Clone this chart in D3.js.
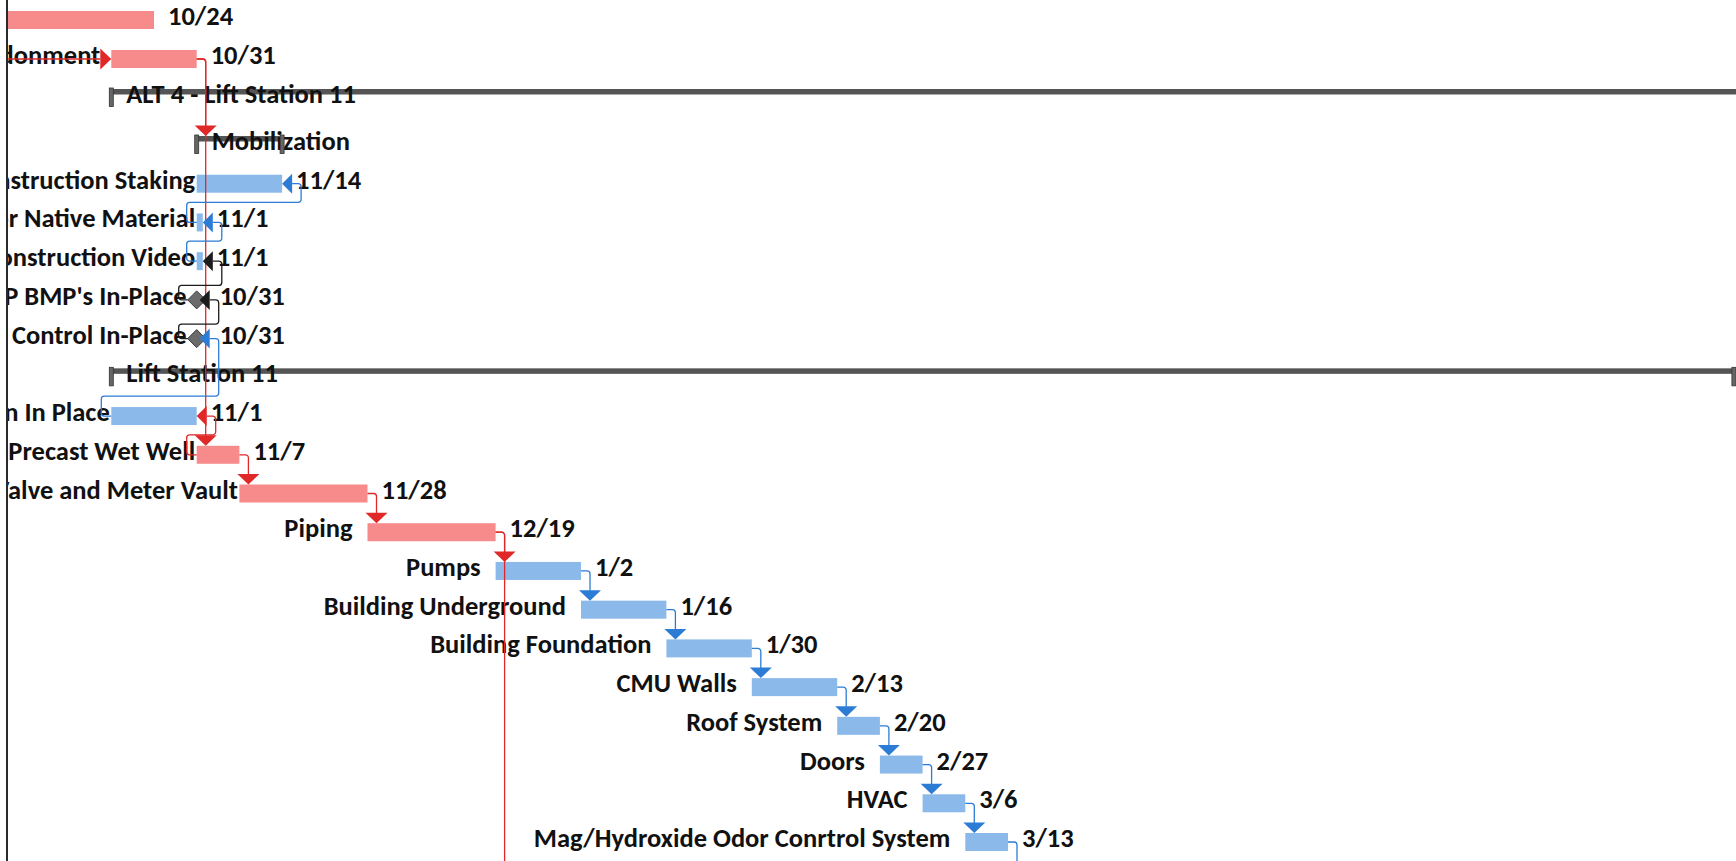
<!DOCTYPE html>
<html><head><meta charset="utf-8">
<script src="https://cdn.jsdelivr.net/npm/d3@7"></script>
<style>
html,body{margin:0;padding:0;background:#fff;overflow:hidden}
svg{display:block}
text{font-family:Carlito,Calibri,Lato,sans-serif;font-weight:700;font-size:26.5px;fill:#111;white-space:pre}
</style></head><body>
<svg id="chart" width="1736" height="861"></svg>
<script>
// ---------------- data ----------------
const taskNames = [
  "", "Abandonment", "ALT 4 - Lift Station 11", "Mobilization", "Construction Staking",
  "Soil Testing for Native Material", "Pre-Construction Video", "SWPPP BMP's In-Place",
  "Traffic Control In-Place", "Lift Station 11", "Dewatering Plan In Place",
  "Install Precast Wet Well", "Install Valve and Meter Vault", "Piping", "Pumps",
  "Building Underground", "Building Foundation", "CMU Walls", "Roof System", "Doors",
  "HVAC", "Mag/Hydroxide Odor Conrtrol System"
];
const taskTypes = [
  "task","task","summary","summary","task","task","task","milestone","milestone","summary","task",
  "task","task","task","task","task","task","task","task","task","task","task"
];
const startDates = [
  "2024-09-19","2024-10-17","2024-10-17","2024-10-31","2024-10-31","2024-10-31","2024-10-31",
  "2024-10-31","2024-10-31","2024-10-17","2024-10-17","2024-10-31","2024-11-07","2024-11-28",
  "2024-12-19","2025-01-02","2025-01-16","2025-01-30","2025-02-13","2025-02-20","2025-02-27","2025-03-06"
];
const finishDates = [
  "2024-10-24","2024-10-31","2025-09-30","2024-11-14","2024-11-14","2024-11-01","2024-11-01",
  "2024-10-31","2024-10-31","2025-07-10","2024-10-31","2024-11-07","2024-11-28","2024-12-19",
  "2025-01-02","2025-01-16","2025-01-30","2025-02-13","2025-02-20","2025-02-27","2025-03-06","2025-03-13"
];
const finishLabels = [
  "10/24","10/31","","","11/14","11/1","11/1","10/31","10/31","","11/1","11/7","11/28","12/19",
  "1/2","1/16","1/30","2/13","2/20","2/27","3/6","3/13"
];
const criticalTasks = [0,1,11,12,13];
// links: from -> to, kind FS (finish-to-start, down), SF (into finish of row above), IN (from off-view left)
const linkFrom = [null, 1, 1, 5, 6, 7, 8, 10, 11, 11, 12, 13, 13, 14, 15, 16, 17, 18, 19, 20, 21];
const linkTo   = [1,    3, 11, 4, 5, 6, 7, 8,  10, 12, 13, 14, 23, 15, 16, 17, 18, 19, 20, 21, 22];
const linkKind = ["IN","FS","FS","SF","SF","SF","SF","SF","SF","FS","FS","FS","FS","FS","FS","FS","FS","FS","FS","FS","FS"];
const linkCat  = ["critical","critical","critical","normal","normal","other","other","normal","critical",
  "critical","critical","critical","critical","normal","normal","normal","normal","normal","normal","normal","normal"];

// ---------------- layout ----------------
const W = 1736, H = 861, BAR_H = 18, BASE = 14;
const parse = d3.utcParse("%Y-%m-%d");
const x = d3.scaleUtc().domain([parse("2024-10-24"), parse("2025-03-13")]).range([154, 1008]);
const y = d3.scaleLinear().domain([0, 2, 3, 21]).range([11, 89, 136, 833]); // row -> bar top
const barColor = {critical: "#f78b8b", normal: "#8bbaea"};
const linkColor = {critical: "#e02828", normal: "#2c7cd6", other: "#1c1c1c"};

const tasks = taskNames.map((name, i) => ({
  i, name, type: taskTypes[i],
  s: x(parse(startDates[i])), f: x(parse(finishDates[i])),
  top: y(i), label: finishLabels[i],
  cat: criticalTasks.includes(i) ? "critical" : "normal"
}));

const svg = d3.select("#chart");
svg.append("defs").append("clipPath").attr("id", "clip")
  .append("rect").attr("x", 8).attr("y", 0).attr("width", W - 8).attr("height", H);
const g = svg.append("g").attr("clip-path", "url(#clip)");

// summary lines
const sums = tasks.filter(t => t.type === "summary");
g.selectAll("rect.sum").data(sums).join("rect").attr("class", "sum")
  .attr("x", d => d.s).attr("y", d => d.top).attr("width", d => d.f - d.s).attr("height", 5.5)
  .attr("fill", "#555");

// bars
const bars = tasks.filter(t => t.type === "task");
g.selectAll("rect.bar").data(bars).join("rect").attr("class", "bar")
  .attr("x", d => d.s).attr("y", d => d.top).attr("width", d => Math.max(1, d.f - d.s)).attr("height", BAR_H)
  .attr("fill", d => barColor[d.cat]);

// milestones
const ms = tasks.filter(t => t.type === "milestone");
g.selectAll("path.ms").data(ms).join("path").attr("class", "ms")
  .attr("d", d => { const cx = d.f, cy = d.top + 9; return `M${cx-9},${cy}L${cx},${cy-9}L${cx+9},${cy}L${cx},${cy+9}Z`; })
  .attr("fill", "#6b6b6b").attr("stroke", "#3a3a3a").attr("stroke-width", 1);

// task names
const gapFor = t => {
  if (t.type === "milestone") return 10;
  if (linkTo.some((to, k) => to === t.i && linkKind[k] === "IN")) return 11;
  return t.i >= 13 ? 15 : 1.5;
};
g.selectAll("text.name").data(tasks.filter(t => t.name && t.type !== "summary")).join("text").attr("class", "name")
  .attr("x", d => (d.type === "milestone" ? d.f : d.s) - gapFor(d)).attr("y", d => d.top + BASE)
  .attr("text-anchor", "end").text(d => d.name);
g.selectAll("text.sname").data(sums).join("text").attr("class", "sname")
  .attr("x", d => d.s + 15).attr("y", d => d.top + BASE).text(d => d.name);

// summary caps
const caps = sums.flatMap(d => [d.s, d.f].map(v => ({v, top: d.top})));
g.selectAll("rect.cap").data(caps).join("rect").attr("class", "cap")
  .attr("x", d => d.v - 2).attr("y", d => d.top - 1).attr("width", 4).attr("height", 18.5)
  .attr("fill", "#666").attr("stroke", "#333").attr("stroke-width", 0.8);

// finish labels
g.selectAll("text.fin").data(tasks.filter(t => t.label)).join("text").attr("class", "fin")
  .attr("x", d => d.f + (d.type === "milestone" ? 23 : 14)).attr("y", d => d.top + BASE).text(d => d.label);

// links
function rounded(pts, r) {
  const p = d3.path();
  p.moveTo(pts[0][0], pts[0][1]);
  for (let k = 1; k < pts.length - 1; k++) p.arcTo(pts[k][0], pts[k][1], pts[k+1][0], pts[k+1][1], r);
  p.lineTo(pts[pts.length-1][0], pts[pts.length-1][1]);
  return p.toString();
}
const links = linkTo.map((to, k) => {
  const kind = linkKind[k], col = linkColor[linkCat[k]];
  const B = tasks[to] || {top: y(to), s: null};
  let line, head;
  if (kind === "IN") {
    const cy = B.top + 9, tip = B.s;
    line = [[0, cy], [tip - 11, cy]];
    head = `M${tip-11},${cy-10.5}L${tip},${cy}L${tip-11},${cy+10.5}Z`;
  } else if (kind === "FS") {
    const A = tasks[linkFrom[k]];
    const ay = A.top + 9, vx = A.f + 9, ty = B.top;
    line = [[A.f, ay], [vx, ay], [vx, ty - 10]];
    head = `M${vx-11},${ty-10.5}L${vx+11},${ty-10.5}L${vx},${ty}Z`;
  } else { // SF: from A's start up into B's finish
    const A = tasks[linkFrom[k]];
    const aMs = A.type === "milestone", bMs = B.type === "milestone";
    const ay = A.top + 9, by = B.top + 9;
    const ax0 = aMs ? A.f - 9 : A.s, axl = aMs ? A.f - 18 : A.s - 10;
    const gy = aMs ? A.top - 5.5 : A.top - 11;
    const tip = bMs ? B.f + 3 : B.f, vx = tip + 19;
    line = [[tip + 10, by], [vx, by], [vx, gy], [axl, gy], [axl, ay], [ax0, ay]];
    head = `M${tip+10},${by-10}L${tip},${by}L${tip+10},${by+10}Z`;
  }
  return {line, head, col};
});
g.selectAll("path.link").data(links).join("path").attr("class", "link")
  .attr("d", d => rounded(d.line, 3)).attr("fill", "none").attr("stroke", d => d.col).attr("stroke-width", 1.3);
g.selectAll("path.head").data(links).join("path").attr("class", "head")
  .attr("d", d => d.head).attr("fill", d => d.col);

// left border
svg.append("rect").attr("x", 6).attr("y", 0).attr("width", 2).attr("height", H).attr("fill", "#2a2a2a");
</script>
</body></html>
